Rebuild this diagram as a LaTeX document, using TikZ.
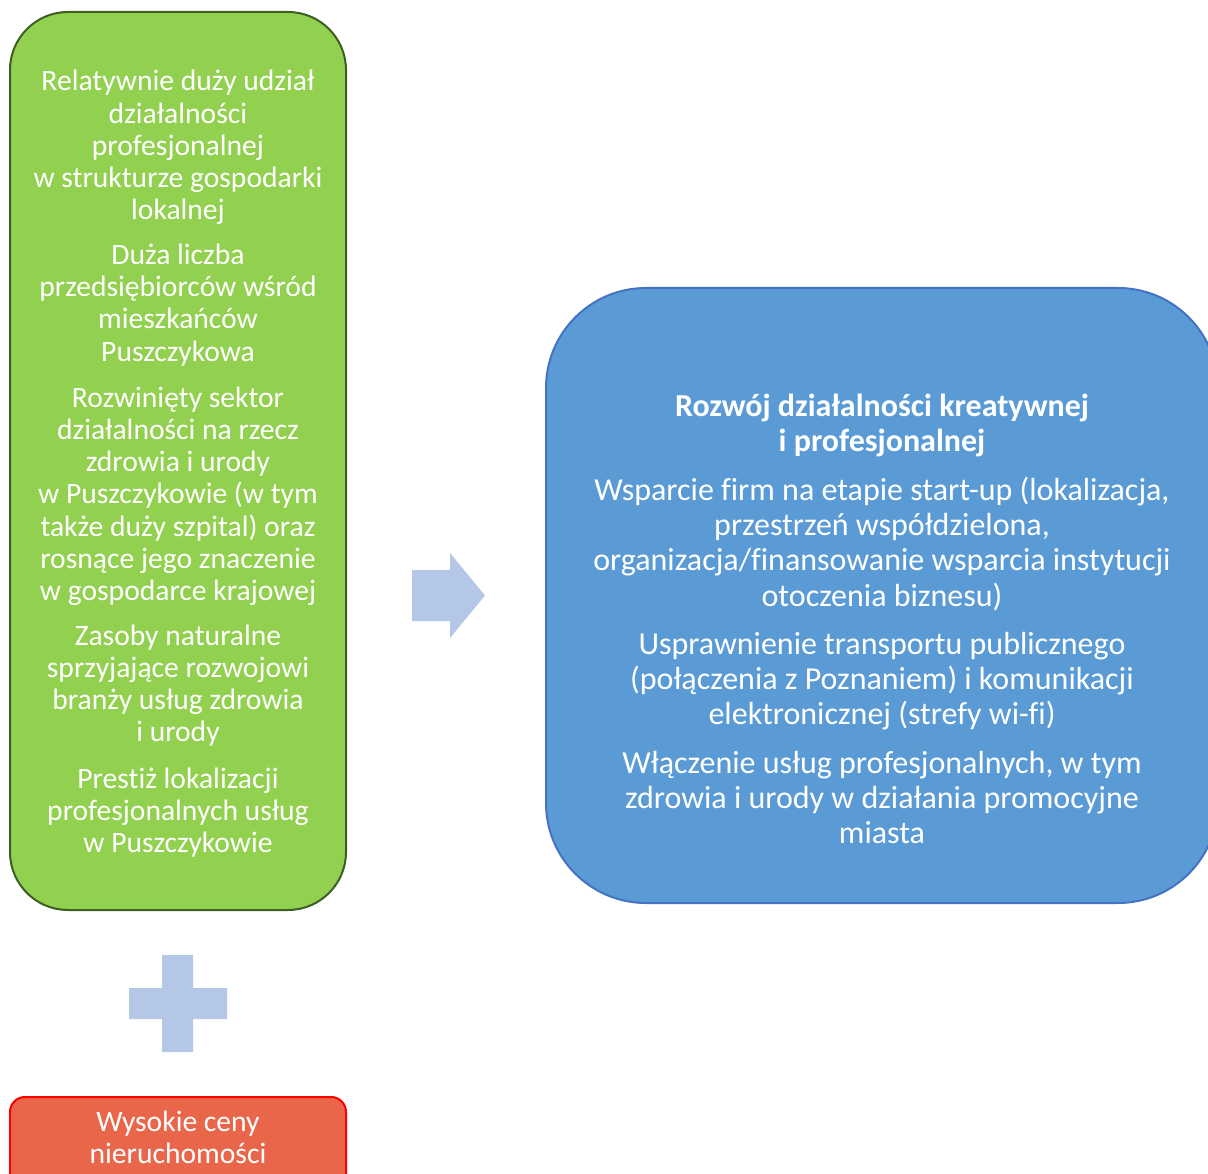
\documentclass[tikz,border=0pt]{standalone}
\usepackage{fontspec}
\setmainfont{Carlito}[Ligatures=NoCommon]
\definecolor{gfill}{HTML}{92D050}
\definecolor{gline}{HTML}{3D5F22}
\definecolor{bfill}{HTML}{5B9BD5}
\definecolor{bline}{HTML}{4472C4}
\definecolor{afill}{HTML}{B4C7E7}
\definecolor{rfill}{HTML}{E9664A}
\definecolor{rline}{HTML}{FF0000}
\begin{document}
\begin{tikzpicture}[x=1pt,y=-1pt,
  gtxt/.style={anchor=base,text=white,inner sep=0pt,font=\fontsize{29.6}{32}\selectfont},
  btxt/.style={anchor=base,text=white,inner sep=0pt,font=\fontsize{32}{35}\selectfont},
  bhead/.style={btxt,font=\fontsize{32}{35}\selectfont\bfseries}]
\useasboundingbox (0,0) rectangle (1208,1174);
\clip (0,0) rectangle (1208,1174);
% boxes
\draw[fill=gfill,draw=gline,line width=2pt,rounded corners=58pt] (10,12) rectangle (346,910);
\draw[fill=bfill,draw=bline,line width=2pt,rounded corners=100pt] (546,288) rectangle (1218,903);
\draw[fill=rfill,draw=rline,line width=2pt,rounded corners=15pt] (10,1097) rectangle (346,1200);
% arrow
\fill[afill] (412,570) -- (450,570) -- (450,553) -- (485,595.5) -- (450,638) -- (450,621) -- (412,621) -- cycle;
% plus
\fill[afill] (162,955) -- (193,955) -- (193,988) -- (227,988) -- (227,1019) -- (193,1019) -- (193,1052) -- (162,1052) -- (162,1019) -- (129,1019) -- (129,988) -- (162,988) -- cycle;
\begin{scope}[yshift=-2pt]
% green text
\node[gtxt] (g1) at (178,89) {Relatywnie duży udział};
\node[gtxt] (g2) at (178,121.25) {działalności};
\node[gtxt] (g3) at (178,153.5) {profesjonalnej};
\node[gtxt] (g4) at (178,185.75) {w strukturze gospodarki};
\node[gtxt] (g5) at (178,218) {lokalnej};
\node[gtxt] (g6) at (178,262.5) {Duża liczba};
\node[gtxt] (g7) at (178,294.75) {przedsiębiorców wśród};
\node[gtxt] (g8) at (178,327) {mieszkańców};
\node[gtxt] (g9) at (178,359.25) {Puszczykowa};
\node[gtxt] (g10) at (178,405) {Rozwinięty sektor};
\node[gtxt] (g11) at (178,437.25) {działalności na rzecz};
\node[gtxt] (g12) at (178,469.5) {zdrowia i urody};
\node[gtxt] (g13) at (178,501.75) {w Puszczykowie (w tym};
\node[gtxt] (g14) at (178,534) {także duży szpital) oraz};
\node[gtxt] (g15) at (178,566.25) {rosnące jego znaczenie};
\node[gtxt] (g16) at (178,598.5) {w gospodarce krajowej};
\node[gtxt] (g17) at (178,643) {Zasoby naturalne};
\node[gtxt] (g18) at (178,675.25) {sprzyjające rozwojowi};
\node[gtxt] (g19) at (178,707.5) {branży usług zdrowia};
\node[gtxt] (g20) at (178,739.75) {i urody};
\node[gtxt] (g21) at (178,786) {Prestiż lokalizacji};
\node[gtxt] (g22) at (178,818.25) {profesjonalnych usług};
\node[gtxt] (g23) at (178,850.5) {w Puszczykowie};
% blue text
\node[bhead] (b1) at (882,414) {Rozwój działalności kreatywnej};
\node[bhead] (b2) at (882,449) {i profesjonalnej};
\node[btxt] (b3) at (882,498) {Wsparcie firm na etapie start-up (lokalizacja,};
\node[btxt] (b4) at (882,533.3) {przestrzeń współdzielona,};
\node[btxt] (b5) at (882,568.6) {organizacja/finansowanie wsparcia instytucji};
\node[btxt] (b6) at (882,604) {otoczenia biznesu)};
\node[btxt] (b7) at (882,652) {Usprawnienie transportu publicznego};
\node[btxt] (b8) at (882,687.3) {(połączenia z Poznaniem) i komunikacji};
\node[btxt] (b9) at (882,722.6) {elektronicznej (strefy wi-fi)};
\node[btxt] (b10) at (882,771) {Włączenie usług profesjonalnych, w tym};
\node[btxt] (b11) at (882,806.3) {zdrowia i urody w działania promocyjne};
\node[btxt] (b12) at (882,841.6) {miasta};
% red text
\node[gtxt] (r1) at (178,1129) {Wysokie ceny};
\node[gtxt] (r2) at (178,1161) {nieruchomości};
\end{scope}
\end{tikzpicture}
\end{document}
